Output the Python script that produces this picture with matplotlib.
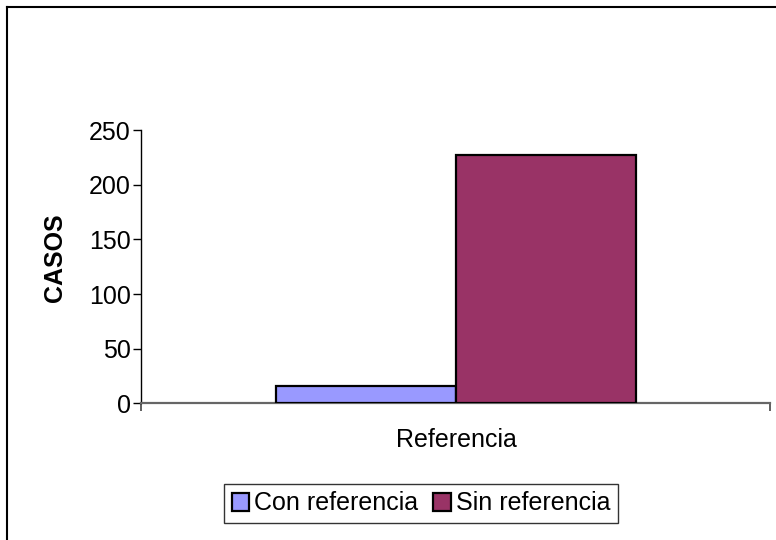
import matplotlib
matplotlib.use("Agg")
import matplotlib.pyplot as plt
from matplotlib.lines import Line2D

plt.rcParams['font.family'] = ['Liberation Sans', 'DejaVu Sans']

category = "Referencia"
series_names = ["Con referencia", "Sin referencia"]
series_values = [16, 227]
series_colors = ["#9999FF", "#993366"]
y_ticks = [0, 50, 100, 150, 200, 250]

FS = 18

fig = plt.figure(figsize=(7.76, 5.4), dpi=100)
ax = fig.add_axes([0.1817, 0.2531, 0.8112, 0.5061])

# Clustered bars: gap of 1.5 bar widths shared around the group
bar_w = 1.0
x0 = 0.75
handles = []
for i, (name, val, col) in enumerate(zip(series_names, series_values, series_colors)):
    b = ax.bar(x0 + bar_w * (i + 0.5), val, width=bar_w, color=col,
               edgecolor="black", linewidth=1.6, label=name, zorder=3)
    handles.append(b)

ax.set_xlim(0, 3.5)
ax.set_ylim(0, 250)
ax.set_yticks(y_ticks)
ax.set_yticklabels([str(t) for t in y_ticks], fontsize=FS)
ax.tick_params(axis='y', length=6, width=1, direction='out', pad=1.5, colors='black')
ax.set_xticks([0, 3.5])
ax.set_xticklabels(["", ""])
ax.tick_params(axis='x', length=6, width=1.2, direction='out', color='#444444')

for s in ["top", "right"]:
    ax.spines[s].set_visible(False)
ax.spines["left"].set_color("black")
ax.spines["left"].set_linewidth(1)
ax.spines["bottom"].set_color("#666666")
ax.spines["bottom"].set_linewidth(1.6)

fig.text(456 / 776, 1 - 440 / 540, category, ha="center", va="center", fontsize=FS)
fig.text(55 / 776, 1 - 258 / 540, "CASOS", ha="center", va="center",
         rotation=90, fontsize=FS, fontweight="bold")

leg = fig.legend(handles=handles, labels=series_names, loc="center",
                 bbox_to_anchor=(421 / 776, 1 - 503.5 / 540), ncol=2,
                 fontsize=FS, frameon=True, fancybox=False, shadow=False,
                 handlelength=0.7, handleheight=0.7, handletextpad=0.2,
                 columnspacing=0.6, borderpad=0.3, borderaxespad=0)
leg.get_frame().set_edgecolor("black")
leg.get_frame().set_linewidth(1)

# Chart area border (left and top edges fall inside the image)
fig.add_artist(Line2D([7 / 776, 7 / 776], [0, 1 - 7 / 540], color="black",
                      linewidth=1.5, transform=fig.transFigure))
fig.add_artist(Line2D([7 / 776, 1], [1 - 7 / 540, 1 - 7 / 540], color="black",
                      linewidth=1.5, transform=fig.transFigure))

fig.savefig("out.png", dpi=100)
